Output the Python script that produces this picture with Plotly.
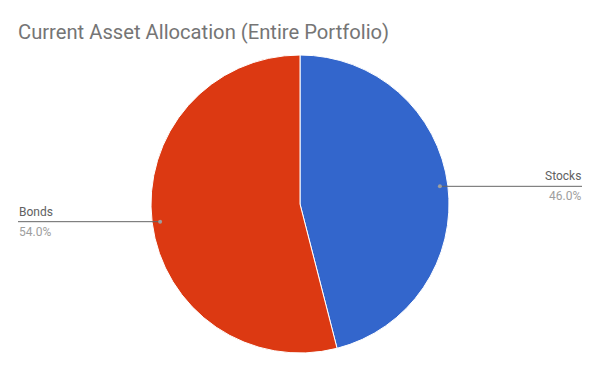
import math
import plotly.graph_objects as go

labels = ["Stocks", "Bonds"]
values = [46.0, 54.0]
colors = ["#3366cc", "#dc3912"]

W, H = 600, 371
CX, CY, R = 300, 204, 149  # pie centre / radius in pixels
DOT_R = 141
LINE_END_RIGHT = 582
LINE_END_LEFT = 18

def px(x):
    return x / W

def py(y):
    return 1 - y / H

fig = go.Figure(go.Pie(
    labels=labels, values=values, sort=False, direction="clockwise", rotation=0,
    marker=dict(colors=colors, line=dict(color="white", width=1)),
    textinfo="none", hoverinfo="label+percent", showlegend=False,
    domain=dict(x=[px(CX - R), px(CX + R)], y=[py(CY + R), py(CY - R)]),
))

shapes = []
annotations = []
total = sum(values)
cum = 0.0
for lab, v in zip(labels, values):
    mid = (cum + v / 2) / total * 2 * math.pi
    cum += v
    dx, dy = math.sin(mid), -math.cos(mid)
    x0, y0 = CX + DOT_R * dx, CY + DOT_R * dy
    right = dx >= 0
    xend = LINE_END_RIGHT if right else LINE_END_LEFT
    shapes.append(dict(type="line", xref="paper", yref="paper",
                       x0=px(x0), y0=py(y0), x1=px(xend), y1=py(y0),
                       line=dict(color="#666666", width=1)))
    shapes.append(dict(type="circle", xref="paper", yref="paper",
                       x0=px(x0 - 2), x1=px(x0 + 2), y0=py(y0 - 2), y1=py(y0 + 2),
                       fillcolor="#9e9e9e", line=dict(width=0)))
    anchor = "right" if right else "left"
    annotations.append(dict(xref="paper", yref="paper", x=px(xend), y=py(y0 - 2),
                            text=lab, showarrow=False, xanchor=anchor, yanchor="bottom",
                            font=dict(family="Roboto", size=12, color="#616161"),
                            borderpad=0))
    annotations.append(dict(xref="paper", yref="paper", x=px(xend), y=py(y0 + 2),
                            text=f"{v / total * 100:.1f}%", showarrow=False,
                            xanchor=anchor, yanchor="top",
                            font=dict(family="Roboto", size=12, color="#9e9e9e"),
                            borderpad=0))

fig.update_layout(
    width=W, height=H,
    margin=dict(l=0, r=0, t=0, b=0),
    paper_bgcolor="white", plot_bgcolor="white",
    title=dict(text="Current Asset Allocation (Entire Portfolio)", x=px(18), xanchor="left",
               y=py(32), yanchor="middle",
               font=dict(family="Roboto", size=20.2, color="#757575")),
    shapes=shapes, annotations=annotations,
)

fig.write_html("out.html")
